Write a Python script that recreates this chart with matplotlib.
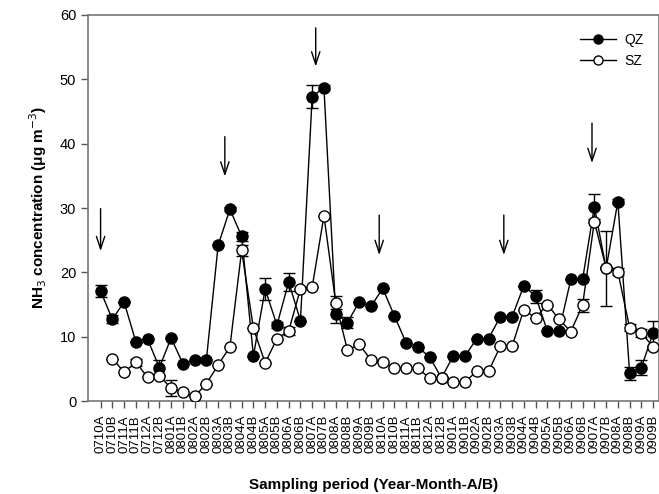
import numpy as np
import matplotlib
matplotlib.use("Agg")
import matplotlib.pyplot as plt
from matplotlib.lines import Line2D

plt.rcParams['font.family'] = ['Liberation Sans', 'DejaVu Sans']

periods = ["0710A", "0710B", "0711A", "0711B", "0712A", "0712B",
           "0801A", "0801B", "0802A", "0802B", "0803A", "0803B",
           "0804A", "0804B", "0805A", "0805B", "0806A", "0806B",
           "0807A", "0807B", "0808A", "0808B", "0809A", "0809B",
           "0810A", "0810B", "0811A", "0811B", "0812A", "0812B",
           "0901A", "0901B", "0902A", "0902B", "0903A", "0903B",
           "0904A", "0904B", "0905A", "0905B", "0906A", "0906B",
           "0907A", "0907B", "0908A", "0908B", "0909A", "0909B"]

qz = [17.1, 12.7, 15.4, 9.2, 9.6, 5.2, 9.8, 5.8, 6.4, 6.4, 24.2, 29.8,
      25.6, 7.0, 17.4, 11.8, 18.5, 12.5, 47.3, 48.7, 13.6, 12.2, 15.4, 14.7,
      17.5, 13.2, 9.0, 8.4, 6.8, 3.6, 7.0, 7.0, 9.7, 9.7, 13.1, 13.1,
      17.9, 16.3, 10.9, 10.9, 18.9, 18.9, 30.2, 20.6, 31.0, 4.3, 5.2, 10.6]
qz_err = [1.0, 0.6, 0.0, 0.0, 0.0, 1.1, 0.0, 0.0, 0.0, 0.0, 0.0, 0.3,
          0.7, 0.0, 1.7, 0.5, 1.4, 0.0, 1.8, 0.4, 1.5, 0.8, 0.0, 0.0,
          0.0, 0.0, 0.0, 0.0, 0.0, 0.0, 0.0, 0.0, 0.0, 0.0, 0.0, 0.0,
          0.0, 1.0, 0.0, 0.0, 0.0, 0.0, 1.9, 5.8, 0.4, 1.0, 1.2, 1.9]

sz = [np.nan, 6.6, 4.5, 6.0, 3.7, 3.9, 2.0, 1.35, 0.7, 2.7, 5.6, 8.4,
      23.4, 11.3, 5.9, 9.7, 10.9, 17.4, 17.7, 28.8, 15.3, 7.9, 8.8, 6.4,
      6.0, 5.2, 5.1, 5.1, 3.5, 3.6, 3.0, 3.0, 4.6, 4.6, 8.5, 8.5,
      14.2, 12.9, 15.0, 12.7, 10.8, 14.9, 27.9, 20.7, 20.1, 11.4, 10.6, 8.4]
sz_err = [0.0, 0.0, 0.0, 0.5, 0.0, 0.0, 1.2, 0.0, 0.0, 0.0, 0.0, 0.0,
          0.8, 0.0, 0.0, 0.0, 0.6, 0.0, 0.0, 0.0, 1.0, 0.0, 0.0, 0.0,
          0.0, 0.0, 0.0, 0.0, 0.0, 0.0, 0.0, 0.0, 0.0, 0.0, 0.0, 0.0,
          0.0, 0.0, 0.0, 0.0, 0.0, 1.0, 0.0, 0.0, 0.5, 0.5, 0.6, 0.0]

# arrows: (x position in category units, top, head)
arrows = [(0.0, 29.9, 23.3), (10.57, 41.1, 34.9), (18.3, 58.0, 52.0),
          (23.7, 28.9, 22.7), (34.3, 28.9, 22.7), (41.8, 43.2, 37.0)]

x = np.arange(len(periods))

fig = plt.figure(figsize=(6.59, 4.94), dpi=100)
ax = fig.add_axes([88/659, 1-401/494, 1-88/659, (401-15)/494])

ax.errorbar(x, qz, yerr=qz_err, color='black', lw=1.0, marker='o', ms=8,
            mfc='black', mec='black', capsize=4, elinewidth=1.0, capthick=1.0,
            zorder=2)
ax.errorbar(x, sz, yerr=sz_err, color='black', lw=1.0, marker='o', ms=8,
            mfc='white', mec='black', mew=1.0, capsize=4, elinewidth=1.0,
            capthick=1.0, zorder=3)

for ax_x, top, head in arrows:
    ax.annotate('', xy=(ax_x, head), xytext=(ax_x, top),
                arrowprops=dict(arrowstyle='->,head_length=0.9,head_width=0.3',
                                color='black', lw=1.0, shrinkA=0, shrinkB=0))

ax.set_xlim(-1.07, 47.5)
ax.set_ylim(0, 60)
ax.set_yticks(range(0, 61, 10))
ax.set_xticks(x)
ax.set_xticklabels(periods, rotation=90, fontsize=9.5)
ax.tick_params(axis='y', labelsize=10.5, direction='out', length=5, width=1,
               color='#555555')
ax.tick_params(axis='x', direction='out', length=5, width=1, color='#555555',
               pad=5)
for s in ax.spines.values():
    s.set_color('#777777')
    s.set_linewidth(1.2)

ax.set_ylabel('NH$_3$ concentration (μg m$^{-3}$)', fontsize=11,
              fontweight='bold', labelpad=8)
ax.set_xlabel('Sampling period (Year-Month-A/B)', fontsize=11,
              fontweight='bold', labelpad=18)

handles = [Line2D([], [], color='black', lw=1.0, marker='o', ms=6.5,
                  mfc='black', mec='black'),
           Line2D([], [], color='black', lw=1.0, marker='o', ms=6.5,
                  mfc='white', mec='black')]
leg = ax.legend(handles, ['QZ', 'SZ'], loc='upper right', frameon=False,
                fontsize=10, handlelength=2.6, bbox_to_anchor=(0.995, 0.985),
                labelspacing=0.45, handletextpad=0.6)

fig.savefig('out.png', dpi=100)
